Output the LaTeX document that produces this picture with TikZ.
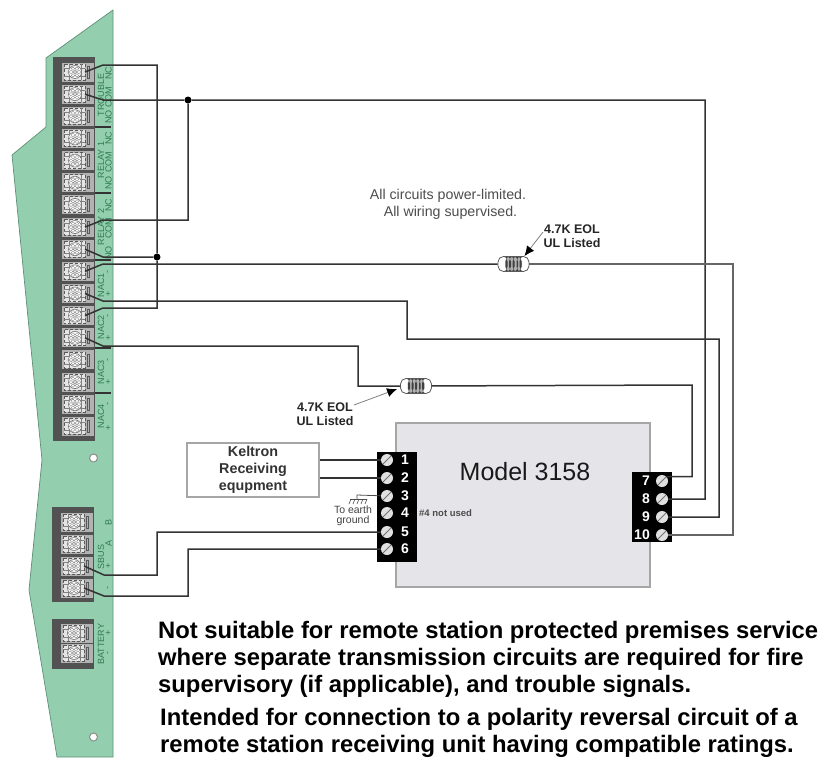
\documentclass[tikz,border=0pt]{standalone}
\usepackage{fontspec}
\setmainfont{Liberation Sans}
\usetikzlibrary{arrows.meta}
\newcommand\pxf[1]{\fontsize{#1}{#1}\selectfont}
\definecolor{board}{HTML}{93CFAE}
\definecolor{boardedge}{HTML}{5F8F78}
\definecolor{boardtxt}{HTML}{2F7A50}
\definecolor{modelfill}{HTML}{E5E5E9}
\tikzset{
  wire/.style={draw=black!80,line width=1.5pt,line join=miter},
  thinwire/.style={draw=black!60,line width=1.1pt},
  junction/.style={circle,fill=black,inner sep=0pt,minimum size=7pt},
  screw/.style={circle,fill=black!12,inner sep=0pt,minimum size=12pt,
    path picture={\draw[black!55,line width=1pt] (path picture bounding box.south west)--(path picture bounding box.north east);}},
  resistor/.style={draw=black!65,fill=white,line width=.8pt,rounded corners=5.5pt,inner sep=0pt,
    minimum width=31pt,minimum height=15pt,
    path picture={\fill[black!30] (-8.5pt,-8pt) rectangle (8.5pt,8pt);
      \fill[black!75] (-8pt,-8pt) rectangle (-6pt,8pt) (-4.5pt,-8pt) rectangle (-2.5pt,8pt) (-1pt,-8pt) rectangle (1pt,8pt) (3pt,-8pt) rectangle (4.5pt,8pt) (6pt,-8pt) rectangle (8pt,8pt);}},
  blocknum/.style={text=white,font=\pxf{14}\bfseries,inner sep=0pt},
  boardlbl/.style={text=boardtxt,font=\pxf{9},rotate=90,inner sep=0pt},
  eol/.style={font=\pxf{12.5}\bfseries,text=black!85,align=center,inner sep=0pt},
  bodytext/.style={anchor=west,font=\pxf{23.8}\bfseries,inner sep=0pt,text=black},
  callout/.style={draw=black!50,line width=.8pt,-{Latex[length=10pt,width=9pt,black]}},
  termpic/.pic={
    \fill[black!30] (-14,-9.5) rectangle (18,9.5);
    \fill[black!10] (-12,-8) rectangle (9,8);
    \draw[black!65,line width=.9pt,densely dashed] (-12,-8) rectangle (9,8);
    \draw[black!50,line width=.5pt] (-12,-4)--(9,-4) (-12,4)--(9,4) (-7,-8)--(-7,8) (5,-8)--(5,8);
    \draw[black!55,fill=white,line width=.6pt] (-1,0) circle (6.5);
    \foreach \a in {0,60,...,300}{\draw[black!45,line width=.4pt] (-1,0) ++(\a:4) circle (1.8);}
    \draw[black!45,fill=black!10,line width=.5pt] (-1,0) circle (1.8);
    \draw[black!65,line width=.7pt] (11,-6) rectangle (13.5,6);
  }
}
\begin{document}
\begin{tikzpicture}[x=1pt,y=-1pt]
\useasboundingbox (0,0) rectangle (823,758);
% board
\draw[fill=board,draw=boardedge,line width=.7pt] (113,10)--(46,58)--(46,127)--(12,155)--(42,460)--(29,590)--(57,757)--(113,757)--cycle;
\foreach \hy/\hn in {458/h1,737/h2}{
  \node[circle,draw=black!45,fill=white,line width=1pt,inner sep=0pt,minimum size=8pt] (\hn) at (93.5,\hy) {};
}
% strips
\fill[black!68] (53,57) rectangle (95,441);
\fill[black!68] (52,507) rectangle (94,602);
\fill[black!68] (52,619) rectangle (94,669);
\foreach \i in {1,...,17}{
  \pgfmathsetmacro\yy{72+22.15*(\i-1)}
  \pic at (76,\yy) {termpic};
  \coordinate (t\i) at (85,\yy);
}
\foreach \yy/\n in {522/b1,544/b2,566/b3,588/b4,633/b5,653/b6}{
  \pic at (75,\yy) {termpic};
  \coordinate (\n) at (84,\yy);
}
% board labels
\foreach \yy/\s in {73/NC,97/COM,117/NO,138/NC,162/COM,183/NO,205/NC,228/COM,253/NO,272/-,294/+,316/-,338/+,360/-,382/+,404/-,428/+,522/B,543/A,566/+,588/-,633/+,653/-}{
  \node[boardlbl] at (108.5,\yy) {\s};
}
\foreach \yy/\s in {95/TROUBLE,160/RELAY 1,227/RELAY 2,285/NAC1,327/NAC2,372/NAC3,416/NAC4,557/SBUS,644/BATTERY}{
  \node[boardlbl] at (101,\yy) {\s};
}
\foreach \yy in {127,193,260,348,393}{
  \draw[black!80,line width=1.5pt] (95,\yy)--(111,\yy);
}
% model box
\node[draw=black!35,fill=modelfill,line width=1.2pt,minimum width=254pt,minimum height=164pt,inner sep=0pt] (model) at (523,505) {};
\node[font=\pxf{25},text=black!90,inner sep=0pt] (modeltxt) at (525,472) {Model 3158};
% keltron
\node[draw=black!35,fill=white,line width=1.2pt,minimum width=132pt,minimum height=54pt,inner sep=0pt,
  font=\pxf{14.3}\bfseries,text=black!80,align=center] (kel) at (253,470) {Keltron\\[2.5pt]Receiving\\[2.5pt]equpment};
% terminal blocks
\node[fill=black,minimum width=40pt,minimum height=110pt,inner sep=0pt] (lb) at (397,507) {};
\node[fill=black,minimum width=40pt,minimum height=70pt,inner sep=0pt] (rb) at (652,507) {};
\foreach \n/\yy in {1/460,2/478,3/496,4/513,5/532,6/549}{
  \node[screw] (s\n) at (387,\yy) {};
  \node[blocknum] at (405,\yy) {\n};
}
\foreach \n/\yy in {7/481,8/499,9/517,10/535}{
  \node[screw] (s\n) at (662,\yy) {};
  \node[blocknum,anchor=east] at (650,\yy) {\n};
}
% resistors
\node[resistor] (r1) at (513.5,264) {};
\node[resistor] (r2) at (416,386) {};
% junctions
\node[junction] (ja) at (188,100) {};
\node[junction] (jb) at (157,257) {};
% wires
\draw[wire] (t1)--(103,65)-|(jb);
\draw[wire] (t2)--(103,100)--(ja)--(705,100)|-(s8);
\draw[wire] (ja)--(188,220)--(103,220)--(t8);
\draw[wire] (t9)--(103,257)--(jb);
\draw[wire] (t10)--(103,264)--(r1);
\draw[thinwire] (r1)--(733,264)|-(s10);
\draw[wire] (t11)--(103,301)--(407,301)--(407,339)--(719,339)|-(s9);
\draw[wire] (t12)--(103,308)-|(jb);
\draw[wire] (t13)--(103,346)--(358,346)|-(r2);
\draw[wire] (r2)--(692,385)|-(s7.north east);
\draw[wire] (b3)--(104,575)--(157,575)|-(s5);
\draw[wire] (b4)--(104,596)--(188,596)|-(s6);
\draw[wire] (kel.east|-s1)--(s1);
\draw[wire] (kel.east|-s2)--(s2);
% ground
\coordinate (gnd) at (357,499);
\draw[black!70,line width=.8pt] (s3)--(357,495)--(gnd);
\draw[black!70,line width=.8pt] (350,499)--(367,499);
\foreach \xx in {351,355,359,363,367}{\draw[black!70,line width=.6pt] (\xx,499)--(\xx-2,504);}
\node[font=\pxf{10.5},text=black!75,align=center,inner sep=0pt] (gtxt) at (353,516) {To earth\\[-.5pt]ground};
\node[font=\pxf{9.5}\bfseries,text=black!70,anchor=west,inner sep=0pt] (nused) at (419,513) {\#4 not used};
% eol labels
\node[eol] (e1) at (572,236) {4.7K EOL\\[1.5pt]UL Listed};
\node[eol] (e2) at (325,414) {4.7K EOL\\[1.5pt]UL Listed};
\draw[callout] (543,232)--([xshift=-5pt]r1.north east);
\draw[callout] (354,405)--([xshift=-3pt,yshift=-3pt]r2.west);
% text
\node[font=\pxf{14.2},text=black!70,align=center,inner sep=0pt] (note) at (448,204) {All circuits power-limited.\\[2.5pt]\hspace*{5pt}All wiring supervised.};
\node[bodytext] (n1) at (158,632) {Not suitable for remote station protected premises service};
\node[bodytext] (n2) at (158,659) {where separate transmission circuits are required for fire};
\node[bodytext] (n3) at (158,686) {supervisory (if applicable), and trouble signals.};
\node[bodytext] (n4) at (160,719) {Intended for connection to a polarity reversal circuit of a};
\node[bodytext] (n5) at (160,746) {remote station receiving unit having compatible ratings.};
\end{tikzpicture}
\end{document}
